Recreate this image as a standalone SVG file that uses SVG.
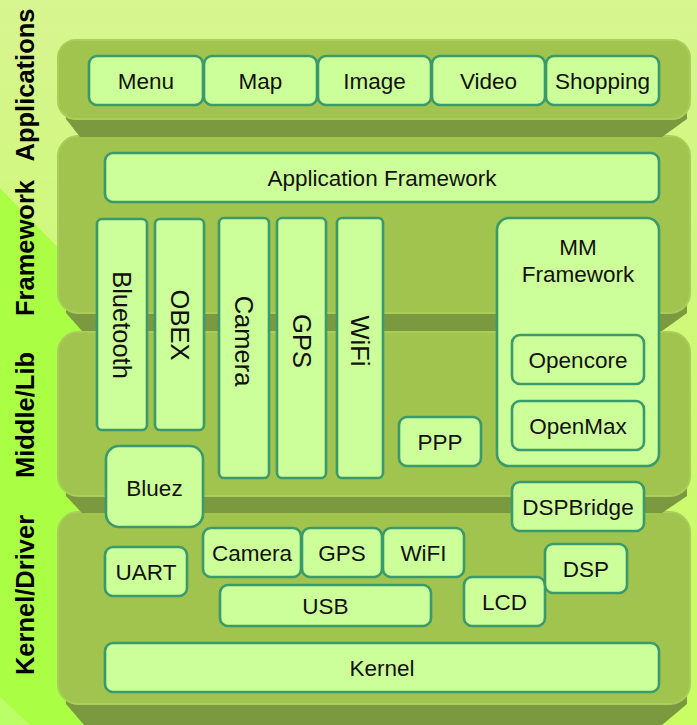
<svg xmlns="http://www.w3.org/2000/svg" width="697" height="725" viewBox="0 0 697 725">
<defs>
<linearGradient id="bg" x1="0" y1="0" x2="0" y2="1">
<stop offset="0" stop-color="#d7f590"/>
<stop offset="0.35" stop-color="#d0f87c"/>
<stop offset="1" stop-color="#c9fd62"/>
</linearGradient>
<style>
.n{fill:#ccff99;stroke:#3a9a6c;stroke-width:2.6}
.t{font-family:"Liberation Sans",Arial,sans-serif;font-size:22.5px;fill:#111;text-anchor:middle}
.v{font-size:25.5px}
.side{font-family:"Liberation Sans",Arial,sans-serif;font-size:25.5px;font-weight:bold;text-anchor:middle;fill:#000}
.face{fill:#a0c44e;stroke:#a9cd5b;stroke-width:2}
.dark{fill:#7b9a40}
</style>
</defs>
<rect x="0" y="0" width="697" height="725" fill="url(#bg)"/>
<polygon points="0,188 62,252 140,252 140,725 30,725 0,697" fill="#aaff44"/>
<polygon points="0,697 30,725 0,725" fill="#bbff66"/>

<g id="layers">
<g id="layer-kernel">
<polygon class="dark" points="66,694 687,694 687,704 662,725 84,725 66,704"/>
<rect class="face" x="58" y="512" width="632" height="192" rx="20"/>
</g>
<g id="layer-middle">
<polygon class="dark" points="66,486 687,486 687,496 662,513 82,513 66,496"/>
<rect class="face" x="58" y="332" width="632" height="164" rx="20"/>
</g>
<g id="layer-framework">
<polygon class="dark" points="66,303 687,303 687,313 662,331 82,331 66,313"/>
<rect class="face" x="58" y="136" width="632" height="177" rx="20"/>
</g>
<g id="layer-applications">
<polygon class="dark" points="66,109 687,109 687,119 662,137 80,137 66,119"/>
<rect class="face" x="58" y="40" width="632" height="79" rx="18"/>
</g>
</g>

<g id="side-labels">
<text class="side" transform="translate(34,85) rotate(-90)">Applications</text>
<text class="side" transform="translate(34,248) rotate(-90)">Framework</text>
<text class="side" transform="translate(34,415) rotate(-90)">Middle/Lib</text>
<text class="side" transform="translate(34,595) rotate(-90)">Kernel/Driver</text>
</g>

<g id="connectors"></g>

<g id="menu"><rect class="n" x="89" y="56" width="114" height="49" rx="8"/><text class="t" x="146" y="89">Menu</text></g>
<g id="map"><rect class="n" x="204" y="56" width="113" height="49" rx="8"/><text class="t" x="260.5" y="89">Map</text></g>
<g id="image"><rect class="n" x="318" y="56" width="113" height="49" rx="8"/><text class="t" x="374.5" y="89">Image</text></g>
<g id="video"><rect class="n" x="432" y="56" width="113" height="49" rx="8"/><text class="t" x="488.5" y="89">Video</text></g>
<g id="shopping"><rect class="n" x="546" y="56" width="113" height="49" rx="8"/><text class="t" x="602.5" y="89">Shopping</text></g>

<g id="app-framework"><rect class="n" x="105" y="153" width="554" height="49" rx="8"/><text class="t" x="382" y="186">Application Framework</text></g>

<g id="bluetooth"><rect class="n" x="97" y="219" width="50" height="211" rx="5"/><text class="t v" transform="translate(122,325) rotate(90)" y="9">Bluetooth</text></g>
<g id="obex"><rect class="n" x="155" y="219" width="49" height="211" rx="5"/><text class="t v" transform="translate(179.5,325) rotate(90)" y="9">OBEX</text></g>
<g id="camera-fw"><rect class="n" x="219" y="218" width="50" height="260" rx="5"/><text class="t v" transform="translate(244,341) rotate(90)" y="9">Camera</text></g>
<g id="gps-fw"><rect class="n" x="277" y="218" width="49" height="260" rx="5"/><text class="t v" transform="translate(301.5,341) rotate(90)" y="9">GPS</text></g>
<g id="wifi-fw"><rect class="n" x="337" y="218" width="46" height="260" rx="5"/><text class="t v" transform="translate(360,341) rotate(90)" y="9">WiFi</text></g>

<g id="mm-framework"><rect class="n" x="497" y="218" width="162" height="248" rx="12"/><text class="t" x="578" y="255">MM</text><text class="t" x="578" y="282">Framework</text></g>
<g id="opencore"><rect class="n" x="512" y="335" width="132" height="49" rx="8"/><text class="t" x="578" y="368">Opencore</text></g>
<g id="openmax"><rect class="n" x="512" y="401" width="132" height="49" rx="8"/><text class="t" x="578" y="434">OpenMax</text></g>
<g id="ppp"><rect class="n" x="399" y="417" width="82" height="49" rx="8"/><text class="t" x="440" y="450">PPP</text></g>
<g id="dspbridge"><rect class="n" x="512" y="482" width="132" height="49" rx="8"/><text class="t" x="578" y="515">DSPBridge</text></g>
<g id="bluez"><rect class="n" x="106" y="446" width="97" height="81" rx="13"/><text class="t" x="154.5" y="496">Bluez</text></g>

<g id="uart"><rect class="n" x="105" y="547" width="82" height="49" rx="8"/><text class="t" x="146" y="580">UART</text></g>
<g id="camera-k"><rect class="n" x="203" y="528" width="98" height="49" rx="8"/><text class="t" x="252" y="561">Camera</text></g>
<g id="gps-k"><rect class="n" x="302" y="528" width="80" height="49" rx="8"/><text class="t" x="342" y="561">GPS</text></g>
<g id="wifi-k"><rect class="n" x="383" y="528" width="81" height="49" rx="8"/><text class="t" x="423.5" y="561">WiFI</text></g>
<g id="usb"><rect class="n" x="220" y="585" width="211" height="41" rx="8"/><text class="t" x="325.5" y="614">USB</text></g>
<g id="lcd"><rect class="n" x="464" y="577" width="81" height="49" rx="8"/><text class="t" x="504.5" y="610">LCD</text></g>
<g id="dsp"><rect class="n" x="545" y="544" width="82" height="49" rx="8"/><text class="t" x="586" y="577">DSP</text></g>
<g id="kernel"><rect class="n" x="105" y="643" width="554" height="49" rx="8"/><text class="t" x="382" y="676">Kernel</text></g>
</svg>
